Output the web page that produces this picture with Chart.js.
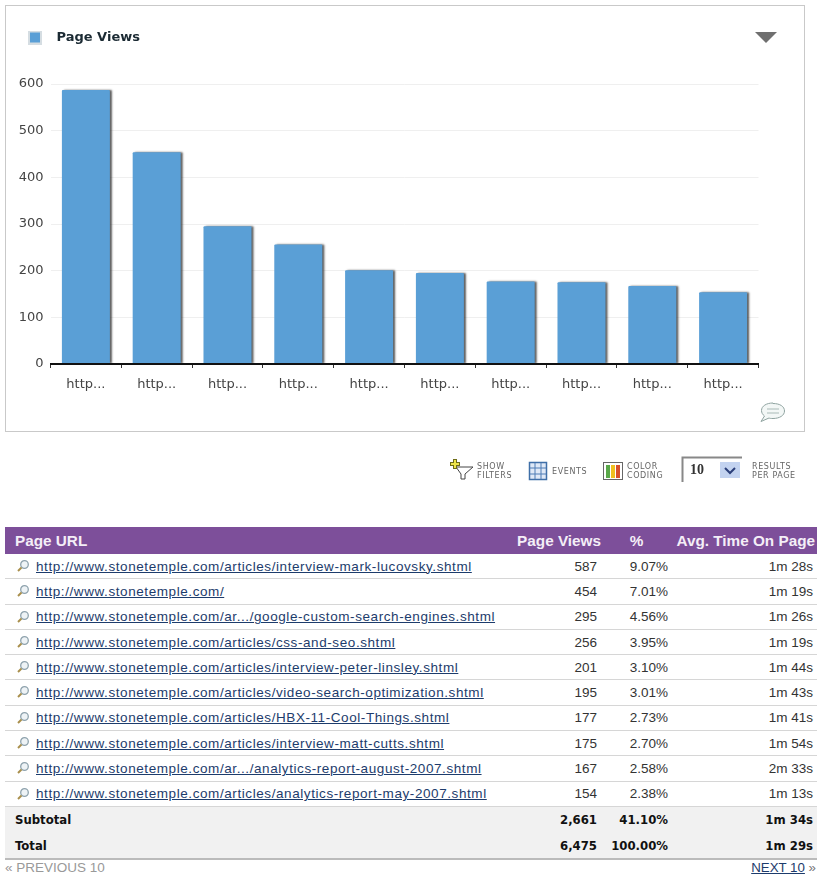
<!DOCTYPE html>
<html>
<head>
<meta charset="utf-8">
<title>Page Views</title>
<script src="https://cdn.jsdelivr.net/npm/chart.js@4"></script>
<style>
  html, body { margin: 0; padding: 0; background: #fff; overflow: hidden; }
  body { position: relative; width: 817px; height: 877px; font-family: "Liberation Sans", sans-serif; }
  #panel { position: absolute; left: 5px; top: 5px; width: 798px; height: 425px; border: 1px solid #c9c9c9; }
  #wrap { position: absolute; left: 6px; top: 6px; width: 798px; height: 425px; }
  .tool { position: absolute; font: 8px/9px "DejaVu Sans", sans-serif; letter-spacing: .6px; color: #666; }
  svg.icons { position: absolute; left: 0; top: 0; }
  #tenBox { position: absolute; left: 690px; top: 462px; font: bold 14px "Liberation Serif", serif; color: #333; }
  table { position: absolute; left: 5px; top: 527px; width: 812px; border-collapse: collapse; table-layout: fixed; }
  th { height: 27px; padding: 0; background: #7d4f9a; color: #f4eef7; font-size: 15.3px; font-weight: bold; white-space: nowrap; }
  td { height: 24.3px; padding: 0; font-size: 13.5px; color: #333; border-bottom: 1px solid #d6d6d6; white-space: nowrap; }
  td a { color: #1d3c6c; text-decoration: underline; font-size: 13.5px; letter-spacing: .58px; }
  td.url { padding-left: 31px; position: relative; }
  td.url svg { position: absolute; left: 11px; top: 5px; }
  .r { text-align: right; }
  tr.sum td { height: 25.5px; background: #f1f1f1; border: 0; color: #111; font: bold 13px "DejaVu Sans Condensed", "DejaVu Sans", sans-serif; }
  tr.sum.first td { border-top: 1px solid #c8c8c8; }
  tr.sum.last td { border-bottom: 2px solid #bbb; }
  #prev { position: absolute; left: 5px; top: 860px; font-size: 13.5px; color: #999; }
  #next { position: absolute; right: 1px; top: 860px; font-size: 13.3px; color: #777; }
  #next a { color: #1d3c6c; }
</style>
</head>
<body>
<div id="panel"></div>
<div id="wrap"><canvas id="chart" width="798" height="425"></canvas></div>

<svg class="icons" width="817" height="500">
  <!-- dropdown arrow and comment bubble in the panel -->
  <polygon points="755,32 777,32 766,43" fill="#6f6f6f"/>
  <path d="M773 403.500 c7 0 11.500 3 11.500 7.500 s-5 7.500 -11.500 7.500 c-2 0 -3 0 -4 -.5 l-8 3.500 l3.500 -5.500 c-2 -1.500 -3 -3.300 -3 -5.500 c0 -4.500 5 -7.500 11.500 -7.500 z" fill="#f3f7f6" stroke="#8fa3a0" stroke-width="1"/>
  <path d="M767 409 h12 M767 413 h12" stroke="#a9bab7"/>
  <!-- filters -->
  <polygon points="456,467 473,467 465,474 465,479 461,479 461,474" fill="#fff" stroke="#444"/>
  <path d="M450 464 h10 M455 459 v10" stroke="#6f6d18" stroke-width="4"/>
  <path d="M451 464 h8 M455 460 v8" stroke="#efe64a" stroke-width="2"/>
  <!-- events -->
  <rect x="529.500" y="462.500" width="17" height="17" fill="#dfe9f7" stroke="#3f6fa8" stroke-width="1.500"/>
  <path d="M530 468 h16 M530 474 h16 M535 463 v16 M541 463 v16" stroke="#4f7cb5"/>
  <!-- color coding -->
  <rect x="603.500" y="462.500" width="19" height="17" fill="#fff" stroke="#666"/>
  <rect x="606" y="465" width="4" height="13" fill="#5aa84a"/>
  <rect x="611" y="465" width="4" height="13" fill="#f0c020"/>
  <rect x="616" y="465" width="4" height="13" fill="#d8502a"/>
  <!-- results select -->
  <path d="M682.500 482 V457.500 H742" fill="none" stroke="#888" stroke-width="2"/>
  <rect x="720" y="462" width="20" height="16" fill="#c3d3f0"/>
  <path d="M725 468 l5 5 l5 -5" fill="none" stroke="#2b3f7a" stroke-width="2"/>
</svg>

<div class="tool" style="left:477px;top:462px">SHOW<br>FILTERS</div>
<div class="tool" style="left:552px;top:467px">EVENTS</div>
<div class="tool" style="left:627px;top:462px">COLOR<br>CODING</div>
<div id="tenBox">10</div>
<div class="tool" style="left:752px;top:462px">RESULTS<br>PER PAGE</div>

<table id="report">
  <colgroup><col style="width:505px"><col style="width:92px"><col style="width:71px"><col style="width:144px"></colgroup>
  <thead><tr>
    <th style="text-align:left;padding-left:10px">Page URL</th>
    <th class="r" style="padding-right:1px">Page Views</th>
    <th style="padding-right:2px">%</th>
    <th class="r" style="padding-right:2px">Avg. Time On Page</th>
  </tr></thead>
  <tbody id="rows"></tbody>
</table>
<div id="prev">« PREVIOUS 10</div>
<div id="next"><a href="#">NEXT 10</a> »</div>

<script>
const categories = [
  'http://www.stonetemple.com/articles/interview-mark-lucovsky.shtml',
  'http://www.stonetemple.com/',
  'http://www.stonetemple.com/ar.../google-custom-search-engines.shtml',
  'http://www.stonetemple.com/articles/css-and-seo.shtml',
  'http://www.stonetemple.com/articles/interview-peter-linsley.shtml',
  'http://www.stonetemple.com/articles/video-search-optimization.shtml',
  'http://www.stonetemple.com/articles/HBX-11-Cool-Things.shtml',
  'http://www.stonetemple.com/articles/interview-matt-cutts.shtml',
  'http://www.stonetemple.com/ar.../analytics-report-august-2007.shtml',
  'http://www.stonetemple.com/articles/analytics-report-may-2007.shtml',
];
const pageViews = [587, 454, 295, 256, 201, 195, 177, 175, 167, 154];
const percents = ['9.07%', '7.01%', '4.56%', '3.95%', '3.10%', '3.01%', '2.73%', '2.70%', '2.58%', '2.38%'];
const avgTimes = ['1m 28s', '1m 19s', '1m 26s', '1m 19s', '1m 44s', '1m 43s', '1m 41s', '1m 54s', '2m 33s', '1m 13s'];
const summary = [
  ['Subtotal', '2,661', '41.10%', '1m 34s'],
  ['Total', '6,475', '100.00%', '1m 29s'],
];
const yTicks = [0, 100, 200, 300, 400, 500, 600];

const BLUE = '#5a9fd6';

// table under the chart
const lens = '<svg width="14" height="14"><circle cx="8.500" cy="5.500" r="3.800" fill="#eef3f6" stroke="#8ea2ad" stroke-width="1.300"/><path d="M5.500 8.500 L2 12" stroke="#a98f4c" stroke-width="2"/></svg>';
let html = '';
categories.forEach((url, i) => {
  html += `<tr><td class="url">${lens}<a href="#">${url}</a></td>`
    + `<td class="r" style="padding-right:5px">${pageViews[i]}</td>`
    + `<td class="r" style="padding-right:5px">${percents[i]}</td>`
    + `<td class="r" style="padding-right:4px">${avgTimes[i]}</td></tr>`;
});
summary.forEach((row, i) => {
  html += `<tr class="sum ${i ? 'last' : 'first'}"><td style="padding-left:10px">${row[0]}</td>`
    + `<td class="r" style="padding-right:5px">${row[1]}</td>`
    + `<td class="r" style="padding-right:5px">${row[2]}</td>`
    + `<td class="r" style="padding-right:4px">${row[3]}</td></tr>`;
});
document.getElementById('rows').innerHTML = html;

// legend swatch, drawn as a point style so the text can sit further right
const swatch = document.createElement('canvas');
swatch.width = 14;
swatch.height = 14;
const sctx = swatch.getContext('2d');
sctx.fillStyle = '#d5dde2';
sctx.fillRect(0, 0, 14, 14);
sctx.fillStyle = BLUE;
sctx.fillRect(2, 2, 10, 10);

const layoutFix = {
  id: 'layoutFix',
  beforeInit(chart) {
    const fit = chart.legend.fit;
    chart.legend.fit = function () {
      fit.call(this);
      this.height = 67;
    };
  },
  beforeDatasetsDraw(chart) {
    const { ctx } = chart;
    ctx.save();
    ctx.shadowColor = 'rgba(40,40,40,0.75)';
    ctx.shadowOffsetX = 2;
    ctx.shadowOffsetY = 0;
    ctx.shadowBlur = 2;
  },
  afterDatasetsDraw(chart) {
    chart.ctx.restore();
  },
};

new Chart(document.getElementById('chart'), {
  type: 'bar',
  data: {
    labels: categories,
    datasets: [{
      label: 'Page Views',
      data: pageViews,
      backgroundColor: BLUE,
      barPercentage: 0.678,
      categoryPercentage: 1,
      borderRadius: 1,
    }],
  },
  options: {
    responsive: false,
    animation: false,
    layout: { padding: { top: 11, right: 45.5, left: 0, bottom: 0 } },
    plugins: {
      tooltip: { enabled: false },
      legend: {
        align: 'start',
        labels: {
          usePointStyle: true,
          pointStyle: swatch,
          pointStyleWidth: 30,
          padding: 14,
          color: '#1b2a33',
          font: { family: 'DejaVu Sans', size: 13, weight: 'bold' },
        },
      },
    },
    scales: {
      x: {
        afterFit(scale) { scale.height = 67; },
        grid: { drawOnChartArea: false, tickColor: '#333', tickLength: 4 },
        border: { color: '#111', width: 2, z: 1 },
        ticks: {
          color: '#444',
          padding: 9,
          maxRotation: 0,
          autoSkip: false,
          font: { family: 'DejaVu Sans', size: 13 },
          callback(value) { return this.getLabelForValue(value).slice(0, 4) + '...'; },
        },
      },
      y: {
        min: 0,
        max: 600,
        afterFit(scale) { scale.width = 44.5; },
        afterBuildTicks(scale) { scale.ticks = yTicks.map(value => ({ value })); },
        grid: { color: '#efefef', drawTicks: false },
        border: { display: false },
        ticks: {
          color: '#444',
          padding: 7,
          font: { family: 'DejaVu Sans', size: 13 },
        },
      },
    },
  },
  plugins: [layoutFix],
});
</script>
</body>
</html>
